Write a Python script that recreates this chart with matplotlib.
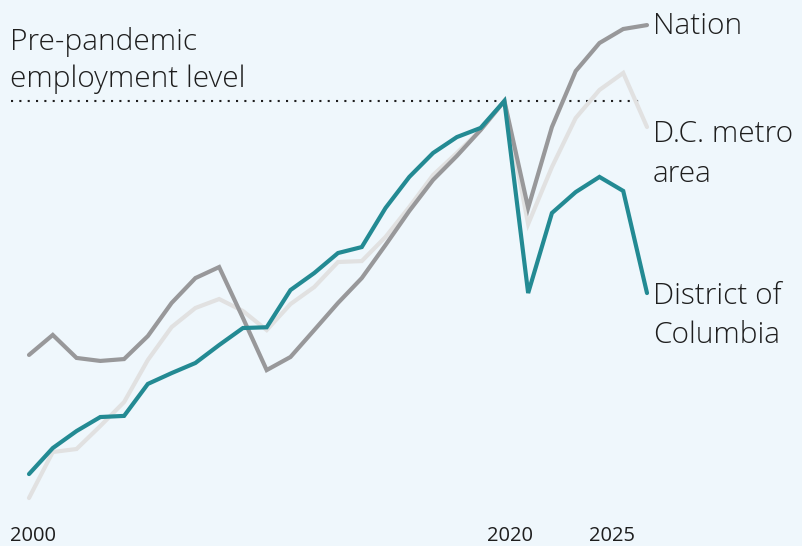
import matplotlib
matplotlib.use("Agg")
import matplotlib.pyplot as plt

# ---- data (employment index, pre-pandemic level = 100) ----
years = list(range(2000, 2027))
dc = [80.05, 81.44, 82.35, 83.10, 83.16, 84.87, 85.45, 85.99, 86.95, 87.86,
      87.90, 89.89, 90.80, 91.87, 92.19, 94.28, 95.94, 97.22, 98.07, 98.56,
      100.0, 89.73, 94.01, 95.13, 95.94, 95.19, 89.73]
nation = [86.42, 87.49, 86.26, 86.10, 86.20, 87.43, 89.20, 90.53, 91.12, 88.40,
          85.61, 86.31, 87.75, 89.20, 90.53, 92.30, 94.12, 95.78, 97.06, 98.45,
          100.0, 94.28, 98.61, 101.60, 103.10, 103.85, 104.06]
metro = [78.77, 81.23, 81.39, 82.62, 83.90, 86.15, 87.91, 88.93, 89.41, 88.77,
         87.75, 89.14, 90.05, 91.39, 91.44, 92.73, 94.33, 96.04, 97.22, 98.45,
         100.0, 93.42, 96.47, 99.09, 100.59, 101.50, 98.61]
pre_pandemic_level = 100.0
tick_labels = ["2000", "2020", "2025"]

# ---- style ----
BG = "#EFF7FC"
TEAL = "#238A93"
GRAY = "#98989A"
LIGHT = "#E1E1E1"
TXT = "#1E1E1E"
FONT = ["Open Sans", "DejaVu Sans"]
FW = "light"

W, H = 803, 546
fig = plt.figure(figsize=(W / 100, H / 100), dpi=100, facecolor=BG)
ax = fig.add_axes([0, 0, 1, 1])
ax.set_facecolor(BG)

x0px, x1px = 29, 647
pxyr = (x1px - x0px) / (years[-1] - years[0])
ax.set_xlim(years[0] - x0px / pxyr, years[0] + (W - x0px) / pxyr)
k = 18.7  # px per index point
ax.set_ylim(100 - (H - 101) / k, 100 + 101 / k)

lw = 3.0
ax.plot(years, metro, color=LIGHT, lw=lw, solid_capstyle="round", solid_joinstyle="miter", zorder=2)
ax.plot(years, nation, color=GRAY, lw=lw, solid_capstyle="round", solid_joinstyle="miter", zorder=3)
ax.plot(years, dc, color=TEAL, lw=lw, solid_capstyle="round", solid_joinstyle="miter", zorder=4)

ax.plot([1999.24, 2025.83], [pre_pandemic_level, pre_pandemic_level], color=TXT,
        lw=1.5, linestyle=(0, (1, 3)), dash_capstyle="butt", zorder=1)

def ypx(p):
    return 100 - (p - 101) / k

def xpx(p):
    return years[0] + (p - x0px) / pxyr

fs = 21.5
kw = dict(fontsize=fs, family=FONT, fontweight=FW, color=TXT, va="baseline", ha="left")
ax.text(xpx(10), ypx(50), "Pre-pandemic", **kw)
ax.text(xpx(10), ypx(87), "employment level", **kw)

lx = xpx(653)
ax.text(lx, ypx(34), "Nation", **kw)
ax.text(lx, ypx(142), "D.C. metro", **kw)
ax.text(lx, ypx(182), "area", **kw)
ax.text(lx, ypx(304), "District of", **kw)
ax.text(lx, ypx(343), "Columbia", **kw)

tick_pos = [xpx(33), xpx(510), xpx(612.5)]
for tp, tl in zip(tick_pos, tick_labels):
    ax.text(tp, ypx(541), tl, fontsize=14.5, family=FONT, color=TXT, va="baseline", ha="center")

ax.set_xticks([])
ax.set_yticks([])
for s in ax.spines.values():
    s.set_visible(False)

fig.savefig("out.png", dpi=100, facecolor=BG)
